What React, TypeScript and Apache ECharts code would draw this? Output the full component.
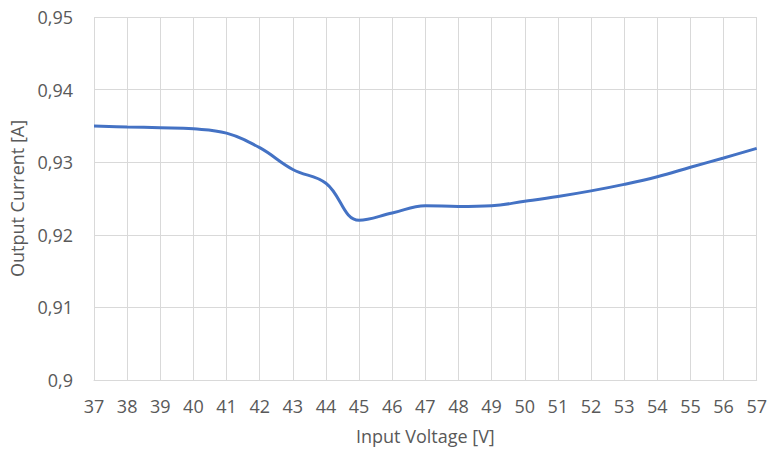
import React, { useEffect, useRef } from "react";
import * as echarts from "echarts";

const voltages = ["37","38","39","40","41","42","43","44","45","46","47","48","49","50","51","52","53","54","55","56","57"];
const currents = [0.935, 0.93485, 0.93475, 0.9346, 0.934, 0.932, 0.929, 0.9271, 0.922, 0.923, 0.924, 0.9239, 0.924, 0.92462, 0.92528, 0.92605, 0.92695, 0.928, 0.9293, 0.93058, 0.9319];

const FONT = "'Open Sans', 'Noto Sans', sans-serif";

export default function App() {
  const ref = useRef<HTMLDivElement>(null);
  useEffect(() => {
    document.body.style.margin = "0";
    const chart = echarts.init(ref.current!, null, { renderer: "svg" });
    chart.setOption({
      animation: false,
      backgroundColor: "#ffffff",
      grid: { left: 94, right: 13, top: 17, bottom: 75 },
      xAxis: {
        type: "category",
        data: voltages,
        boundaryGap: false,
        name: "Input Voltage [V]",
        nameLocation: "middle",
        nameGap: 47,
        nameTextStyle: { color: "#595959", fontSize: 18, fontFamily: FONT },
        axisLine: { show: true, lineStyle: { color: "#d9d9d9", width: 1 } },
        axisTick: { show: false },
        axisLabel: { color: "#595959", fontSize: 18, fontFamily: FONT, margin: 17, interval: 0 },
        splitLine: { show: true, lineStyle: { color: "#d9d9d9", width: 1 } },
      },
      yAxis: {
        type: "value",
        min: 0.9,
        max: 0.95,
        interval: 0.01,
        name: "Output Current [A]",
        nameLocation: "middle",
        nameGap: 68,
        nameTextStyle: { color: "#595959", fontSize: 18, fontFamily: FONT },
        axisLine: { show: false },
        axisTick: { show: false },
        axisLabel: {
          color: "#595959",
          fontSize: 18,
          fontFamily: FONT,
          margin: 21,
          formatter: (v: number) => String(Math.round(v * 100) / 100).replace(".", ","),
        },
        splitLine: { show: true, lineStyle: { color: "#d9d9d9", width: 1 } },
      },
      series: [
        {
          type: "line",
          data: currents,
          smooth: 0.4,
          showSymbol: false,
          symbol: "none",
          lineStyle: { color: "#4472C4", width: 3 },
        },
      ],
    });
    return () => chart.dispose();
  }, []);
  return <div ref={ref} style={{ width: 770, height: 455 }} />;
}
